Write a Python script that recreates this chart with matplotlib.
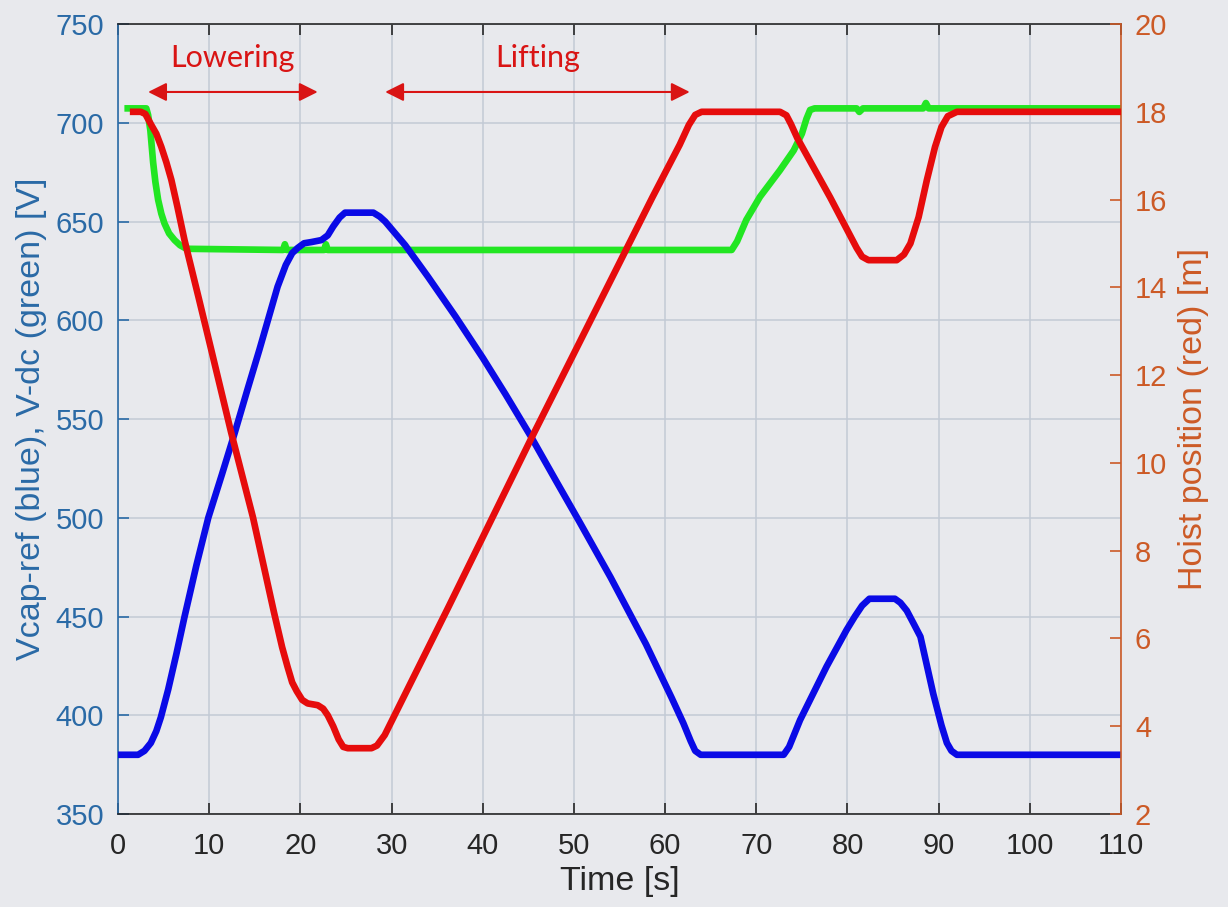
import matplotlib
matplotlib.use("Agg")
import matplotlib.pyplot as plt

# ---------------- data ----------------
blue_t = [0, 2.2, 2.9, 3.6, 4.2, 4.7, 5.5, 6.4, 7.3, 8.6, 9.9, 11.4, 12.8, 14.2, 15.5, 16.5, 17.5,
          18.4, 19.1, 19.7, 20.4, 21.2, 22.3, 23.0, 23.6, 24.3, 24.9, 28.0, 28.7, 29.3,
          31.5, 34.0, 37.0, 40.0, 42.5, 45.3, 48.0, 50.6, 54.0, 57.9, 60.7, 62.0, 62.8, 63.3, 63.9,
          73.0, 73.6, 74.8, 77.7, 79.9, 80.8, 81.6, 82.4, 85.2, 85.8, 86.5, 87.3, 88.0, 89.4,
          90.3, 90.9, 91.4, 92.0, 110]
blue_v = [380, 380, 382, 386, 392, 399, 413, 431, 450, 476, 500, 522, 543, 565, 585, 601, 617,
          628, 634, 636.6, 639, 639.6, 640.6, 643, 647.5, 652, 654.5, 654.5, 652.5, 650,
          638, 622, 602, 581, 562.5, 541, 519, 498, 470, 436, 409, 396, 387, 382, 380,
          380, 384, 397.6, 424.6, 443.2, 450, 455.5, 459, 459, 457, 453, 446, 439.8, 411,
          395, 386, 382, 380, 380]

green_t = [0.7, 3.1, 3.3, 3.55, 3.85, 4.1, 4.4, 4.75, 5.1, 5.6, 6.2, 6.8, 7.5, 18.1, 18.3, 18.5,
           22.6, 22.8, 23.0, 67.3, 67.9, 68.9, 70.4, 72.6, 74.1, 75.0, 75.5, 75.9, 76.4,
           81.0, 81.3, 81.7, 88.3, 88.6, 88.9, 110]
green_v = [707.3, 707.3, 704, 696, 680, 670, 661, 654, 649, 644, 640.6, 638, 636.2, 635.6, 638.5, 635.6,
           635.6, 638.5, 635.6, 635.6, 640, 650.8, 662.5, 676, 686, 694.5, 702, 706.5, 707.3,
           707.3, 705.5, 707.3, 707.3, 710, 707.3, 707.3]

red_t = [1.3, 2.5, 3.0, 3.65, 4.2, 4.75, 5.3, 5.85, 6.5, 7.3, 8.8, 10.2, 12.4, 14.8, 17.1,
         18.0, 18.6, 19.1, 19.6, 20.2, 20.8, 21.9, 22.5, 23.0, 23.6, 24.2, 24.7, 25.2,
         27.8, 28.4, 29.25, 36.2, 45.3, 58.6, 61.6, 62.6, 63.3, 64.0,
         72.6, 73.3, 73.8, 74.5, 78.1, 81.0, 81.6, 82.3, 85.4, 86.2, 86.9, 87.8, 88.7, 89.6,
         90.3, 91.0, 92.0, 110]
red_h = [18, 18, 17.95, 17.7, 17.5, 17.2, 16.85, 16.45, 15.85, 15.07, 13.8, 12.6, 10.7, 8.76, 6.6,
         5.8, 5.35, 5.0, 4.8, 4.6, 4.52, 4.48, 4.4, 4.25, 4.0, 3.7, 3.53, 3.5,
         3.5, 3.56, 3.8, 6.7, 10.55, 16.05, 17.25, 17.7, 17.93, 18,
         18, 17.92, 17.72, 17.4, 16.05, 14.9, 14.7, 14.62, 14.62, 14.75, 15.0, 15.6, 16.44, 17.2,
         17.65, 17.9, 18, 18]

x_ticks = [0, 10, 20, 30, 40, 50, 60, 70, 80, 90, 100, 110]
left_ticks = [350, 400, 450, 500, 550, 600, 650, 700, 750]
right_ticks = [2, 4, 6, 8, 10, 12, 14, 16, 18, 20]

phases = ["Lowering", "Lifting"]
phase_start = [3.3, 29.3]
phase_end = [21.9, 62.7]

# ---------------- style ----------------
BG = "#e8e9ed"
BLUE_AX = "#2a6aa6"
ORANGE_AX = "#cc5a26"
C_BLUE = "#0a0ae6"
C_GREEN = "#22e622"
C_RED = "#e60c0c"
C_ANN = "#d91414"
FONT = "Liberation Sans"

plt.rcParams['font.family'] = [FONT, 'DejaVu Sans']

fig = plt.figure(figsize=(12.28, 9.07), dpi=100, facecolor=BG)
ax = fig.add_axes([0.0961, 0.1025, 0.8168, 0.871])
ax.set_facecolor(BG)
ax2 = ax.twinx()

LW = 4.8
ax.plot(blue_t, blue_v, color=C_BLUE, lw=LW, solid_joinstyle='round', solid_capstyle='butt', zorder=3)
ax.plot(green_t, green_v, color=C_GREEN, lw=LW, solid_joinstyle='round', solid_capstyle='butt', zorder=2)
ax2.plot(red_t, red_h, color=C_RED, lw=LW, solid_joinstyle='round', solid_capstyle='butt', zorder=3)

ax.set_xlim(0, 110)
ax.set_ylim(350, 750)
ax2.set_ylim(2, 20)
ax.set_xticks(x_ticks)
ax.set_yticks(left_ticks)
ax2.set_yticks(right_ticks)

ax.grid(True, color="#c3cad5", lw=1.1)
ax.set_axisbelow(True)

ax.tick_params(axis='x', which='both', direction='in', top=True, length=8, width=1.2,
               labelsize=21, pad=13, colors="#262626")
ax.tick_params(axis='y', direction='in', length=8, width=1.2, labelsize=21, pad=10,
               colors=BLUE_AX)
ax2.tick_params(axis='y', direction='in', length=8, width=1.2, labelsize=21, pad=10,
                colors=ORANGE_AX)

for s in ['top', 'bottom']:
    ax.spines[s].set_color("#262626")
    ax.spines[s].set_linewidth(1.2)
ax.spines['left'].set_color(BLUE_AX)
ax.spines['left'].set_linewidth(1.2)
ax.spines['right'].set_visible(False)
ax2.spines['left'].set_visible(False)
ax2.spines['top'].set_visible(False)
ax2.spines['bottom'].set_visible(False)
ax2.spines['right'].set_color(ORANGE_AX)
ax2.spines['right'].set_linewidth(1.2)

ax.set_xlabel("Time [s]", fontsize=24.5, color="#262626", labelpad=4)
ax.set_ylabel("Vcap-ref (blue), V-dc (green) [V]", fontsize=24.5, color=BLUE_AX, labelpad=6)
ax2.set_ylabel("Hoist position (red) [m]", fontsize=24.5, color=ORANGE_AX, labelpad=8, rotation=90)

for name, a, b in zip(phases, phase_start, phase_end):
    ax.annotate('', xy=(b, 715.6), xytext=(a, 715.6),
                arrowprops=dict(arrowstyle='<|-|>', color=C_ANN, lw=1.5,
                                mutation_scale=28, shrinkA=0, shrinkB=0))
    ax.text((a + b) / 2, 733, name, color=C_ANN, fontsize=22, family=['Lato', 'DejaVu Sans'],
            ha='center', va='center')

fig.savefig("out.png", dpi=100, facecolor=BG)
